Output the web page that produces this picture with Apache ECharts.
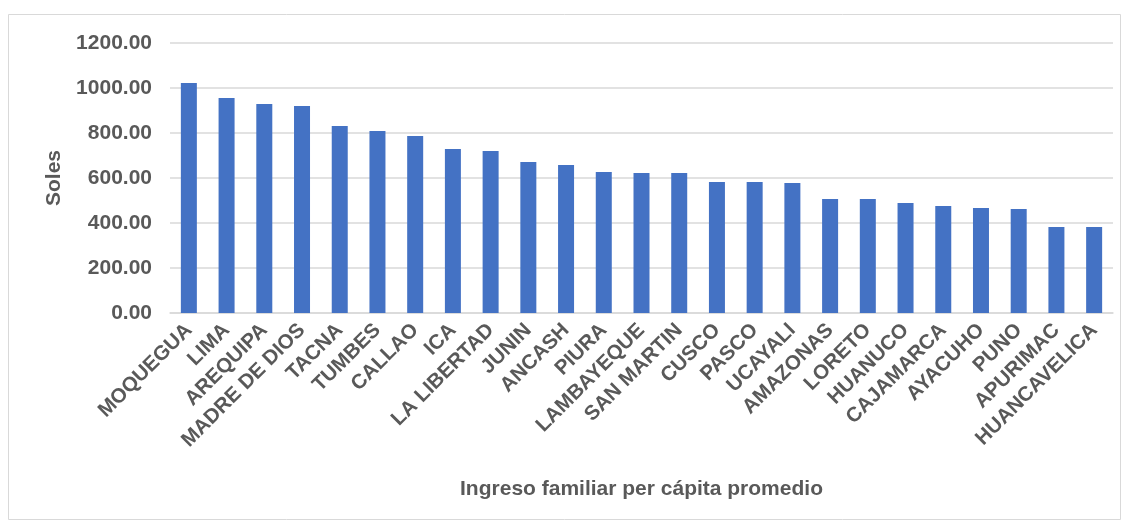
<!DOCTYPE html>
<html>
<head>
<meta charset="utf-8">
<script src="https://cdn.jsdelivr.net/npm/echarts@6/dist/echarts.min.js"></script>
<style>html,body{margin:0;padding:0;background:#fff;}#c{width:1129px;height:525px;}</style>
</head>
<body>
<div id="c"></div>
<script>
const categories = ["MOQUEGUA","LIMA","AREQUIPA","MADRE DE DIOS","TACNA","TUMBES","CALLAO","ICA","LA LIBERTAD","JUNIN","ANCASH","PIURA","LAMBAYEQUE","SAN MARTIN","CUSCO","PASCO","UCAYALI","AMAZONAS","LORETO","HUANUCO","CAJAMARCA","AYACUHO","PUNO","APURIMAC","HUANCAVELICA"];
const ingreso = [1022,956,929,920,831,809,787,729,720,671,658,627,622,622,582,582,578,507,507,489,476,467,462,382,382];
const yTicks = [0,200,400,600,800,1000,1200];
const xTitle = "Ingreso familiar per cápita promedio";
const yTitle = "Soles";

const chart = echarts.init(document.getElementById('c'));
const font = '"Liberation Sans", Arial, sans-serif';
chart.setOption({
  animation: false,
  backgroundColor: '#fff',
  graphic: [{type:'rect', shape:{x:8.5,y:14.5,width:1112,height:505}, style:{fill:'none', stroke:'#d9d9d9', lineWidth:1}}],
  grid: {left:170, right:16, top:43, bottom:212, containLabel:false},
  xAxis: {
    type:'category', data: categories,
    name: xTitle, nameLocation:'middle', nameGap:166,
    nameTextStyle:{color:'#595959', fontSize:21, fontWeight:'bold', fontFamily:font},
    axisLine:{show:true, lineStyle:{color:'#d9d9d9', width:1.5}},
    axisTick:{show:false},
    axisLabel:{rotate:45, interval:0, margin:14, color:'#595959', fontSize:20.5, fontWeight:'bold', fontFamily:font}
  },
  yAxis: {
    type:'value', min:yTicks[0], max:yTicks[yTicks.length-1], interval:200,
    name: yTitle, nameLocation:'middle', nameGap:105,
    nameTextStyle:{color:'#595959', fontSize:21, fontWeight:'bold', fontFamily:font},
    axisLine:{show:false}, axisTick:{show:false},
    splitLine:{lineStyle:{color:'#d9d9d9', width:1.5}},
    axisLabel:{margin:18, color:'#595959', fontSize:21, fontWeight:'bold', fontFamily:font, formatter: v => v.toFixed(2)}
  },
  series: [{type:'bar', data: ingreso, barWidth:16, itemStyle:{color:'#4472C4'}}]
});
</script>
</body>
</html>
